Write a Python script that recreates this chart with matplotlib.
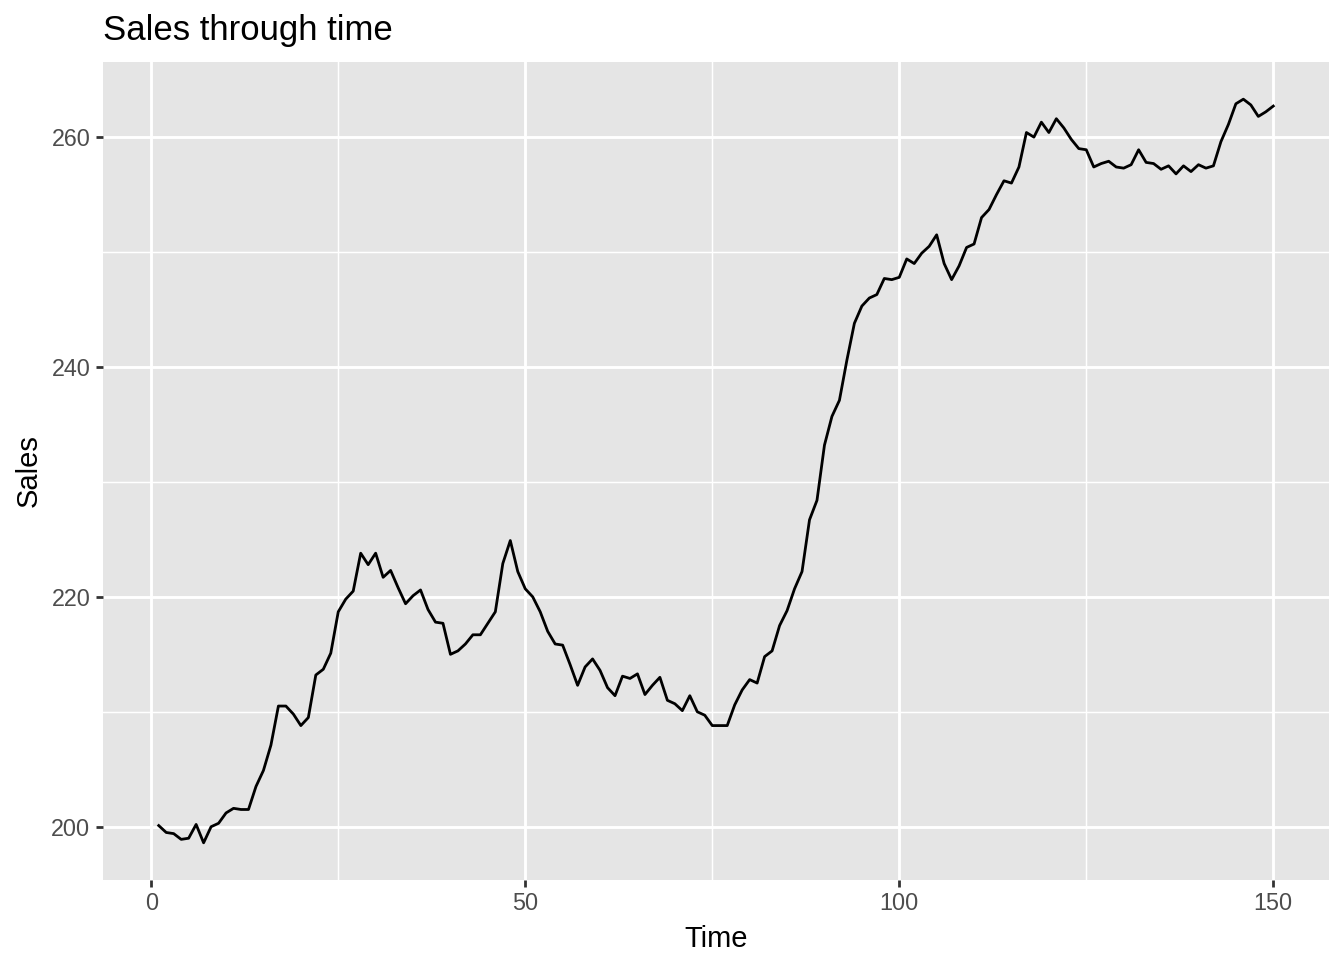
import numpy as np
import matplotlib
matplotlib.use("Agg")
import matplotlib.pyplot as plt
from matplotlib.ticker import MultipleLocator

# BJsales series
sales = [
    200.1, 199.5, 199.4, 198.9, 199.0, 200.2, 198.6, 200.0, 200.3, 201.2,
    201.6, 201.5, 201.5, 203.5, 204.9, 207.1, 210.5, 210.5, 209.8, 208.8,
    209.5, 213.2, 213.7, 215.1, 218.7, 219.8, 220.5, 223.8, 222.8, 223.8,
    221.7, 222.3, 220.8, 219.4, 220.1, 220.6, 218.9, 217.8, 217.7, 215.0,
    215.3, 215.9, 216.7, 216.7, 217.7, 218.7, 222.9, 224.9, 222.2, 220.7,
    220.0, 218.7, 217.0, 215.9, 215.8, 214.1, 212.3, 213.9, 214.6, 213.6,
    212.1, 211.4, 213.1, 212.9, 213.3, 211.5, 212.3, 213.0, 211.0, 210.7,
    210.1, 211.4, 210.0, 209.7, 208.8, 208.8, 208.8, 210.6, 211.9, 212.8,
    212.5, 214.8, 215.3, 217.5, 218.8, 220.7, 222.2, 226.7, 228.4, 233.2,
    235.7, 237.1, 240.6, 243.8, 245.3, 246.0, 246.3, 247.7, 247.6, 247.8,
    249.4, 249.0, 249.9, 250.5, 251.5, 249.0, 247.6, 248.8, 250.4, 250.7,
    253.0, 253.7, 255.0, 256.2, 256.0, 257.4, 260.4, 260.0, 261.3, 260.4,
    261.6, 260.8, 259.8, 259.0, 258.9, 257.4, 257.7, 257.9, 257.4, 257.3,
    257.6, 258.9, 257.8, 257.7, 257.2, 257.5, 256.8, 257.5, 257.0, 257.6,
    257.3, 257.5, 259.6, 261.1, 262.9, 263.3, 262.8, 261.8, 262.2, 262.7,
]
time = np.arange(1, len(sales) + 1)

plt.rcParams["font.family"] = ["Liberation Sans", "DejaVu Sans"]

W, H = 1344, 960
fig = plt.figure(figsize=(W / 100, H / 100), dpi=100)
ax = fig.add_axes([103 / W, 1 - 880 / H, (1329 - 103) / W, (880 - 62) / H])
ax.set_facecolor("#E5E5E5")

ax.plot(time, sales, color="black", lw=2.0, zorder=3)

# ggplot-style expansion (5%)
xr = time.max() - time.min()
ax.set_xlim(time.min() - 0.05 * xr, time.max() + 0.05 * xr)
yr = max(sales) - min(sales)
ax.set_ylim(min(sales) - 0.05 * yr, max(sales) + 0.05 * yr)

ax.xaxis.set_major_locator(MultipleLocator(50))
ax.xaxis.set_minor_locator(MultipleLocator(25))
ax.yaxis.set_major_locator(MultipleLocator(20))
ax.yaxis.set_minor_locator(MultipleLocator(10))

ax.grid(which="major", color="white", lw=2.1, zorder=1)
ax.grid(which="minor", color="white", lw=1.05, zorder=1)
ax.set_axisbelow(True)
for s in ax.spines.values():
    s.set_visible(False)

ax.tick_params(which="major", length=5, width=2.0, color="#333333",
               labelcolor="#4D4D4D", labelsize=16.8, pad=4)
ax.tick_params(which="minor", length=0)

ax.set_xlabel("Time", fontsize=21)
ax.set_ylabel("Sales", fontsize=21)
ax.xaxis.set_label_coords((103 + 1329) / 2 / W, 1 - 925 / H, transform=fig.transFigure)
ax.yaxis.set_label_coords(43 / W, 1 - 471 / H, transform=fig.transFigure)
ax.set_title("Sales through time", fontsize=25, loc="left", pad=15.5)

fig.savefig("out.png", dpi=100)
